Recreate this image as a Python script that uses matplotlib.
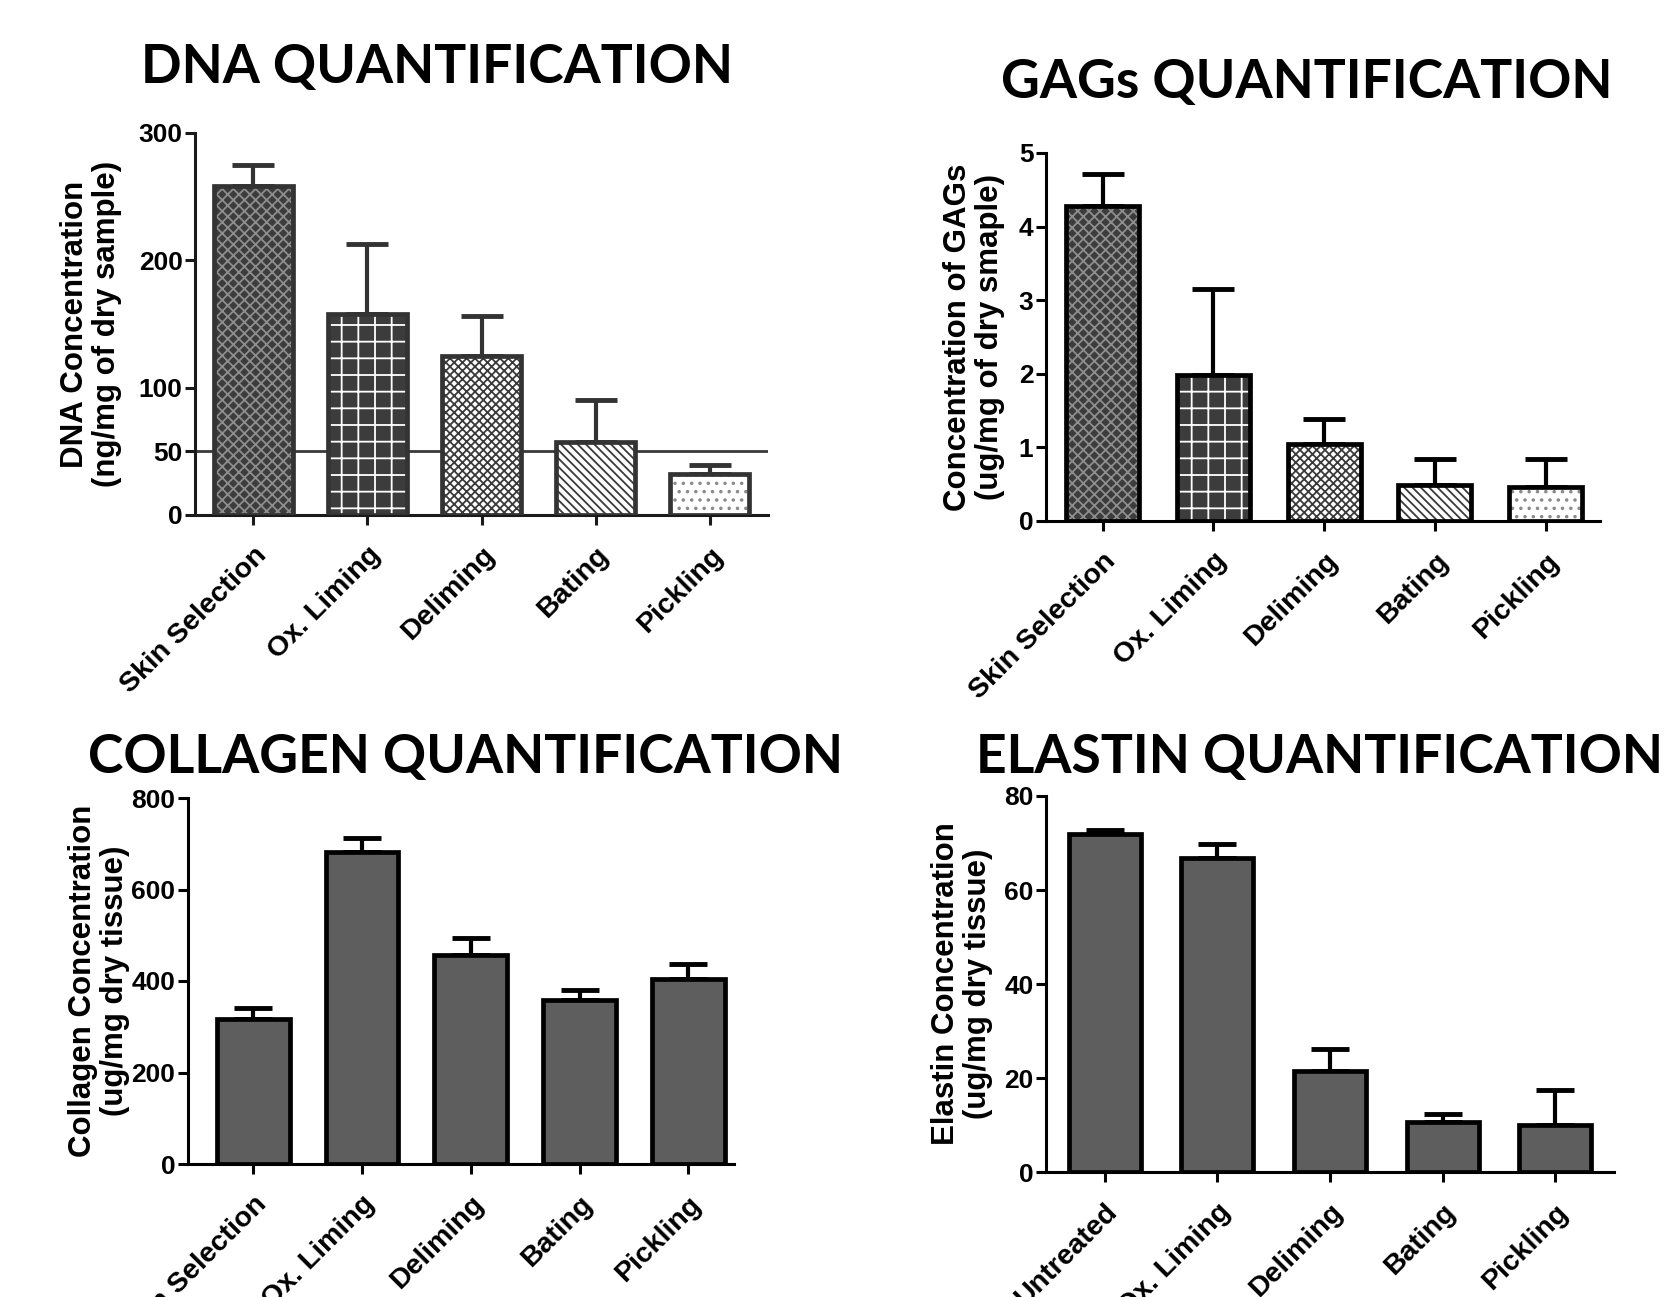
import numpy as np
import matplotlib
matplotlib.use("Agg")
import matplotlib.pyplot as plt

# ---- data ----
steps = ["Skin Selection", "Ox. Liming", "Deliming", "Bating", "Pickling"]
steps_elastin = ["Untreated", "Ox. Liming", "Deliming", "Bating", "Pickling"]

dna_mean = [258, 158, 125, 57, 32]
dna_err = [17, 55, 31, 33, 7]
dna_ticks = [0, 50, 100, 200, 300]
dna_threshold = 50

gag_mean = [4.28, 1.99, 1.04, 0.49, 0.46]
gag_err = [0.43, 1.16, 0.35, 0.35, 0.38]
gag_ticks = [0, 1, 2, 3, 4, 5]

col_mean = [316, 681, 456, 358, 405]
col_err = [26, 31, 39, 23, 32]
col_ticks = [0, 200, 400, 600, 800]

ela_mean = [71.9, 66.9, 21.5, 10.6, 9.9]
ela_err = [0.9, 2.9, 4.7, 1.8, 7.5]
ela_ticks = [0, 20, 40, 60, 80]

# fill / hatch style for the patterned (DNA, GAGs) panels
pattern_face = ["#3c3c3c", "#3c3c3c", "white", "white", "white"]
pattern_hatch = ["xxx", "+", "xxxx", "\\\\\\\\", ".."]
pattern_hcol = ["#8e8e8e", "white", "#3a3a3a", "#3a3a3a", "#8a8a8a"]

W, H = 1668, 1297
plt.rcParams["font.family"] = ["Liberation Sans", "DejaVu Sans"]
plt.rcParams["hatch.linewidth"] = 1.3

fig = plt.figure(figsize=(W / 100, H / 100), dpi=100)


def px_axes(left, right, top, bottom):
    return fig.add_axes([left / W, (H - bottom) / H, (right - left) / W, (bottom - top) / H])


def style(ax, labels, ticks, ylim, xlim, ylabel, col, labelpad=10):
    ax.set_xlim(*xlim)
    ax.set_ylim(*ylim)
    for s in ["top", "right"]:
        ax.spines[s].set_visible(False)
    for s in ["left", "bottom"]:
        ax.spines[s].set_linewidth(2.2)
        ax.spines[s].set_color(col)
    ax.set_yticks(ticks)
    ax.set_yticklabels([str(t) for t in ticks], fontsize=19, fontweight="bold")
    ax.set_xticks(range(len(labels)))
    ax.set_xticklabels(labels, rotation=45, ha="right", rotation_mode="anchor",
                       fontsize=20.5, fontweight="bold")
    ax.tick_params(axis="both", direction="out", length=7.5, width=2.2, color=col)
    ax.tick_params(axis="x", pad=12)
    ax.tick_params(axis="y", pad=1.5)
    ax.set_ylabel(ylabel, fontsize=22.5, fontweight="bold", linespacing=1.1,
                  labelpad=labelpad)


def patterned(ax, mean, err, width, edge):
    x = np.arange(len(mean))
    ax.errorbar(x, mean, yerr=[np.zeros(len(mean)), err], fmt="none", ecolor=edge,
                elinewidth=3, capsize=15, capthick=3.5, zorder=1)
    for i in range(len(mean)):
        ax.bar(x[i], mean[i], width, color=pattern_face[i], hatch=pattern_hatch[i],
               edgecolor=pattern_hcol[i], linewidth=0, zorder=2)
    ax.bar(x, mean, width, fill=False, edgecolor=edge, linewidth=3.4, zorder=3)


def solid(ax, mean, err, width):
    x = np.arange(len(mean))
    ax.errorbar(x, mean, yerr=[np.zeros(len(mean)), err], fmt="none", ecolor="black",
                elinewidth=3, capsize=13.5, capthick=3.5, zorder=1)
    ax.bar(x, mean, width, color="#5e5e5e", edgecolor="black", linewidth=3.4, zorder=2)


# DNA
ax1 = px_axes(195, 768, 133, 515)
ax1.axhline(dna_threshold, color="#3a3a3a", lw=2, zorder=0)
patterned(ax1, dna_mean, dna_err, 0.69, "#333333")
style(ax1, steps, dna_ticks, (0, 300), (-0.51, 4.51),
      "DNA Concentration\n(ng/mg of dry sample)", "#1a1a1a", labelpad=12)

# GAGs
ax2 = px_axes(1046, 1600, 153, 521)
patterned(ax2, gag_mean, gag_err, 0.66, "black")
style(ax2, steps, gag_ticks, (0, 5), (-0.51, 4.49),
      "Concentration of GAGs\n(ug/mg of dry smaple)", "black")

# Collagen
ax3 = px_axes(188, 734, 798, 1164)
solid(ax3, col_mean, col_err, 0.67)
style(ax3, steps, col_ticks, (0, 800), (-0.6, 4.42),
      "Collagen Concentration\n(ug/mg dry tissue)", "black", labelpad=1)

# Elastin
ax4 = px_axes(1046, 1614, 796, 1172)
solid(ax4, ela_mean, ela_err, 0.64)
style(ax4, steps_elastin, ela_ticks, (0, 80), (-0.52, 4.52),
      "Elastin Concentration\n(ug/mg dry tissue)", "black", labelpad=8)

title_kw = dict(fontsize=38.5, fontweight="bold", family=["Lato", "DejaVu Sans"],
                ha="center", va="baseline")
fig.text(437 / W, 1 - 83 / H, "DNA QUANTIFICATION", **title_kw)
fig.text(1307 / W, 1 - 98 / H, "GAGs QUANTIFICATION", **title_kw)
fig.text(466 / W, 1 - 773 / H, "COLLAGEN QUANTIFICATION", **title_kw)
fig.text(1319 / W, 1 - 773 / H, "ELASTIN QUANTIFICATION", **title_kw)

fig.savefig("out.png", dpi=100, facecolor="white")
